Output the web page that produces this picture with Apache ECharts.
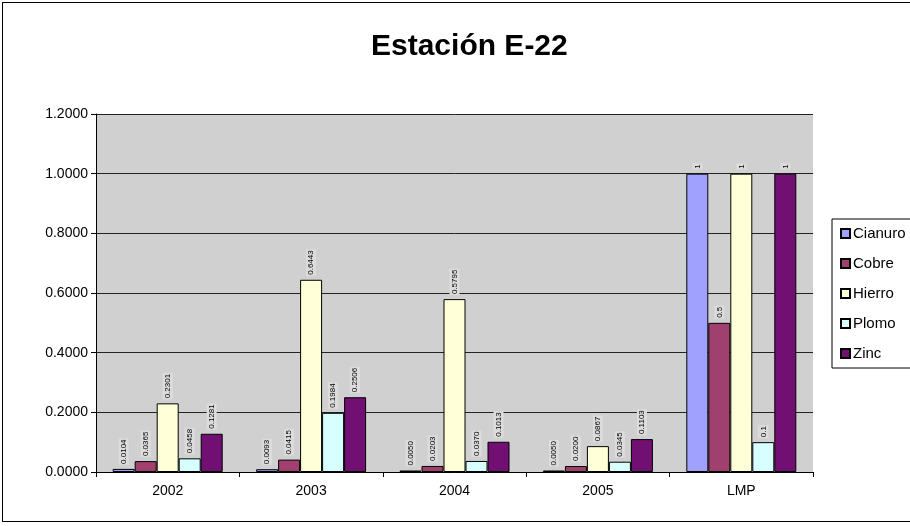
<!DOCTYPE html>
<html>
<head>
<meta charset="utf-8">
<script src="https://cdn.jsdelivr.net/npm/echarts@6/dist/echarts.min.js"></script>
<style>
html,body{margin:0;padding:0;background:#fff;}
#frame{position:absolute;left:2px;top:2px;width:920px;height:520px;border:1px solid #000;box-sizing:border-box;}
#chart{position:absolute;left:0;top:0;width:910px;height:526px;}
</style>
</head>
<body>
<div id="frame"></div>
<div id="chart"></div>
<script>
const categories = ['2002', '2003', '2004', '2005', 'LMP'];
const cianuro = [0.0104, 0.0093, 0.0050, 0.0050, 1];
const cobre   = [0.0365, 0.0415, 0.0203, 0.0200, 0.5];
const hierro  = [0.2301, 0.6443, 0.5795, 0.0867, 1];
const plomo   = [0.0458, 0.1984, 0.0370, 0.0345, 0.1];
const zinc    = [0.1281, 0.2506, 0.1013, 0.1103, 1];
const seriesNames = ['Cianuro', 'Cobre', 'Hierro', 'Plomo', 'Zinc'];
const colors = ['#A0A0FF', '#A0406E', '#FFFFD8', '#D8FFFF', '#720F72'];
const yTicks = [0, 0.2, 0.4, 0.6, 0.8, 1.0, 1.2];

const FONT = 'Liberation Sans, Arial, sans-serif';
const allData = [cianuro, cobre, hierro, plomo, zinc];

const chart = echarts.init(document.getElementById('chart'), null, {renderer: 'canvas'});
chart.setOption({
  animation: false,
  backgroundColor: 'transparent',
  title: {
    text: 'Estación E-22',
    left: 366,
    top: 27,
    textStyle: {fontFamily: FONT, fontSize: 30, fontWeight: 'bold', color: '#000'}
  },
  legend: {
    orient: 'vertical',
    left: 832,
    top: 219,
    padding: [7, 40, 7, 8],
    itemGap: 15,
    itemWidth: 9,
    itemHeight: 9,
    icon: 'rect',
    borderColor: '#000',
    borderWidth: 1,
    backgroundColor: '#fff',
    data: seriesNames,
    textStyle: {fontFamily: FONT, fontSize: 15, color: '#000', padding: [0, 0, 0, -2]}
  },
  grid: {left: 96, right: 97, top: 114, bottom: 54, show: true, backgroundColor: '#D0D0D0', borderWidth: 0},
  xAxis: {
    type: 'category',
    data: categories,
    axisLine: {lineStyle: {color: '#000', width: 1}},
    axisTick: {show: true, length: 5, lineStyle: {color: '#000'}},
    axisLabel: {fontFamily: FONT, fontSize: 14, color: '#000', margin: 12}
  },
  yAxis: {
    type: 'value',
    min: 0, max: 1.2, interval: 0.2,
    axisLine: {show: true, lineStyle: {color: '#000', width: 1}},
    axisTick: {show: true, length: 5, lineStyle: {color: '#000'}},
    splitLine: {show: true, lineStyle: {color: '#222', width: 1}},
    axisLabel: {fontFamily: FONT, fontSize: 14, color: '#000', margin: 8,
      formatter: v => v.toFixed(4)}
  },
  series: seriesNames.map((name, i) => ({
    name: name,
    type: 'bar',
    data: allData[i],
    barWidth: 22,
    barGap: '0%',
    itemStyle: {color: colors[i], borderColor: '#000', borderWidth: 1},
    label: {
      show: true,
      position: 'top',
      rotate: 90,
      align: 'left',
      verticalAlign: 'middle',
      distance: 4,
      fontFamily: FONT,
      fontSize: 8,
      color: '#000',
      backgroundColor: '#DCDCDC',
      padding: [1, 1],
      formatter: p => p.dataIndex === 4 ? String(p.value) : p.value.toFixed(4)
    }
  }))
});
</script>
</body>
</html>
